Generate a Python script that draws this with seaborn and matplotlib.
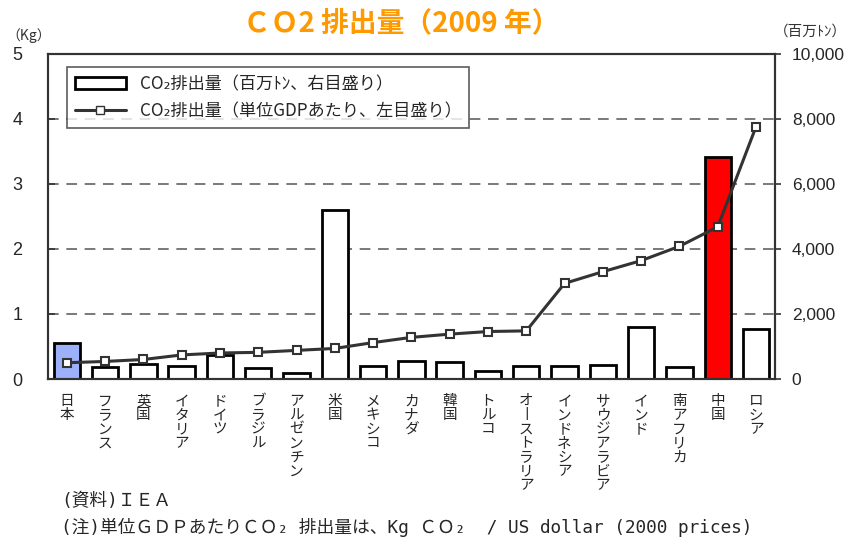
import matplotlib
matplotlib.use("Agg")
import matplotlib.pyplot as plt
from matplotlib.lines import Line2D
from matplotlib.patches import Patch
import numpy as np
import pandas as pd
import seaborn as sns

sns.set_theme(style="white")
plt.rcParams["font.family"] = ["Noto Sans CJK JP", "DejaVu Sans"]

countries = ["日本", "フランス", "英国", "イタリア", "ドイツ", "ブラジル", "アルゼンチン",
             "米国", "メキシコ", "カナダ", "韓国", "トルコ", "オーストラリア", "インドネシア",
             "サウジアラビア", "インド", "南アフリカ", "中国", "ロシア"]
co2_total = [1120, 360, 460, 410, 740, 330, 175, 5200, 400, 545, 515, 255,
             400, 400, 430, 1610, 370, 6840, 1540]  # 百万トン (right axis)
co2_per_gdp = [0.25, 0.27, 0.30, 0.37, 0.40, 0.41, 0.44, 0.47, 0.56, 0.64, 0.69,
               0.73, 0.74, 1.47, 1.65, 1.82, 2.04, 2.34, 3.88]  # kg / USD (left axis)
highlight = {"日本": "#9DB0FA", "中国": "#FF0000"}

df = pd.DataFrame({"country": countries, "total": co2_total, "per_gdp": co2_per_gdp})
df["x"] = np.arange(len(df))
n = len(df)

fig = plt.figure(figsize=(8.5, 5.43), dpi=100)
ax = fig.add_axes([0.056, 0.302, 0.856, 0.599])  # left axis (kg), line
ax2 = ax.twinx()  # right axis (百万トン), bars

# bars on the right axis
palette = [highlight.get(c, "white") for c in countries]
sns.barplot(data=df, x="x", y="total", hue="country", palette=palette,
            legend=False, ax=ax2, width=0.69, edgecolor="black", linewidth=2,
            saturation=1, zorder=2, native_scale=True)
ax2.set_ylim(0, 10000)
ax2.set_yticks([0, 2000, 4000, 6000, 8000, 10000])
ax2.set_yticklabels(["0", "2,000", "4,000", "6,000", "8,000", "10,000"],
                    fontsize=12.5, family="Liberation Sans")
for y in [2000, 4000, 6000, 8000]:
    ax2.axhline(y, color="#555555", lw=1.1, ls=(0, (7, 5)), zorder=1)

# line on the left axis, drawn above the bars
ax.set_zorder(ax2.get_zorder() + 1)
ax.patch.set_visible(False)
sns.lineplot(data=df, x="x", y="per_gdp", ax=ax, color="#333333", lw=2.2,
             marker="s", markersize=6, markerfacecolor="white",
             markeredgecolor="#333333", markeredgewidth=1.5, zorder=5)
ax.set_ylim(0, 5)
ax.set_yticks([0, 1, 2, 3, 4, 5])
ax.set_yticklabels(["0", "1", "2", "3", "4", "5"], fontsize=13, family="Liberation Sans")
ax.set_xlim(-0.5, n - 0.5)
ax2.set_xlim(-0.5, n - 0.5)
ax2.yaxis.tick_right()

for a in (ax, ax2):
    for s in a.spines.values():
        s.set_color("#333333")
        s.set_linewidth(1.5)
    a.set_xlabel("")
    a.set_ylabel("")
ax.tick_params(axis="y", left=True, right=False, direction="in", length=5, width=1.2,
               color="#333333", pad=18)
ax2.tick_params(axis="y", right=True, left=False, direction="out", length=4, width=1.2,
                color="#333333", pad=8)

# vertical country labels (long-vowel mark drawn as a vertical stroke)
ax.set_xticks(df["x"])
ax.set_xticklabels(["\n".join(c.replace("ー", "丨")) for c in countries],
                   fontsize=10.5, va="top", linespacing=1.0)
ax.tick_params(axis="x", bottom=False, pad=5)

# legend
handles = [Patch(facecolor="white", edgecolor="black", linewidth=2),
           Line2D([0], [0], color="#333333", lw=2.2, marker="s", markersize=6,
                  markerfacecolor="white", markeredgecolor="#333333")]
labels = ["CO₂排出量（百万ﾄﾝ、右目盛り）", "CO₂排出量（単位GDPあたり、左目盛り）"]
leg = ax.legend(handles, labels, loc="upper left", bbox_to_anchor=(0.015, 0.985),
                fontsize=12.3, frameon=True, fancybox=False, edgecolor="#333333",
                handlelength=3, borderpad=0.45, labelspacing=0.55)
leg.get_frame().set_linewidth(1.2)

# titles and notes
fig.text(0.472, 0.958, "ＣＯ2 排出量（2009 年）", color="#FF9900", fontsize=20,
         fontweight="bold", ha="center", va="center")
fig.text(0.008, 0.935, "（Kg）", fontsize=10, color="#333333", va="center")
fig.text(0.91, 0.942, "（百万ﾄﾝ）", fontsize=10.5, color="#333333", va="center")
note_font = ["DejaVu Sans Mono", "Noto Sans CJK JP", "DejaVu Sans"]
fig.text(0.072, 0.078, "(資料)ＩＥＡ", fontsize=12.8, va="center", family=note_font)
fig.text(0.072, 0.028, "(注)単位ＧＤＰあたりＣＯ₂ 排出量は、Kg ＣＯ₂  / US dollar (2000 prices)",
         fontsize=12.8, va="center", family=note_font)

fig.savefig("out.png", dpi=100)
